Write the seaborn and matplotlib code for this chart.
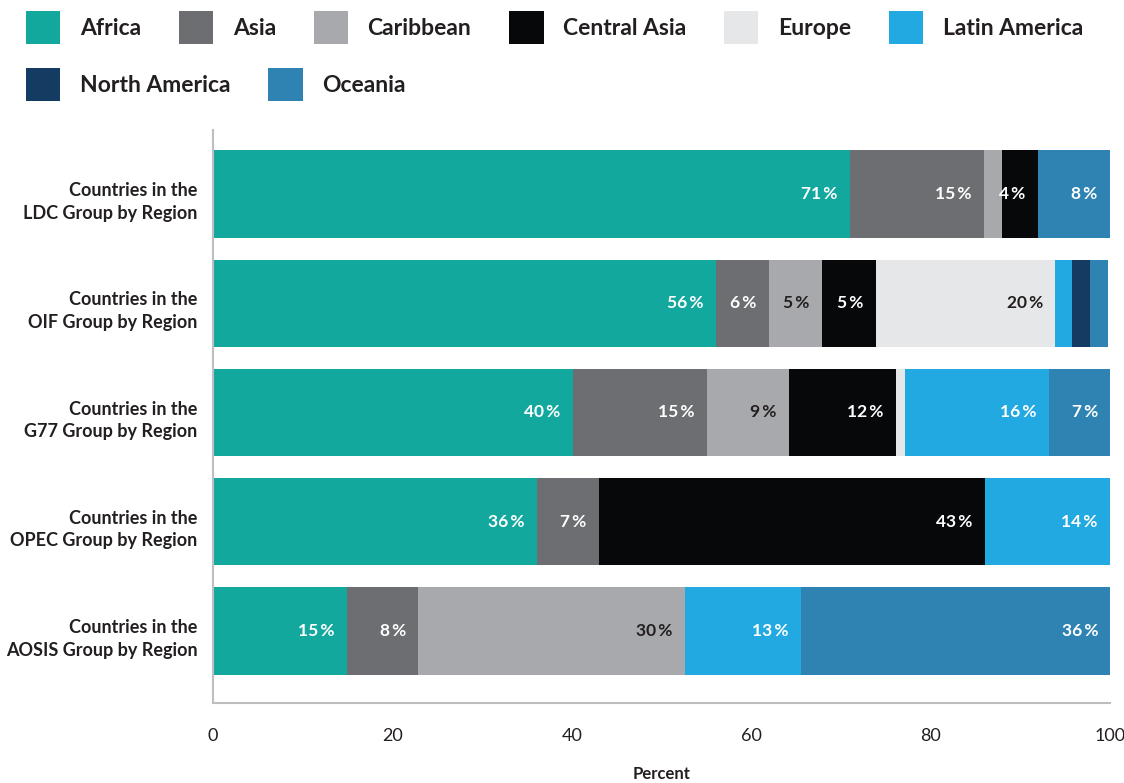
import matplotlib
matplotlib.use("Agg")
import matplotlib.pyplot as plt
import matplotlib.transforms as mtransforms
from matplotlib.patches import Patch
import numpy as np
import pandas as pd
import seaborn as sns

# ---- data ----
groups = [
    "Countries in the\nLDC Group by Region",
    "Countries in the\nOIF Group by Region",
    "Countries in the\nG77 Group by Region",
    "Countries in the\nOPEC Group by Region",
    "Countries in the\nAOSIS Group by Region",
]
regions = ["Africa", "Asia", "Caribbean", "Central Asia", "Europe",
           "Latin America", "North America", "Oceania"]

africa = [71, 56.1, 40.1, 36.1, 14.9]
asia = [15, 5.9, 15, 6.9, 8]
caribbean = [2, 5.9, 9.1, 0, 29.7]
central_asia = [4, 6, 11.9, 43.1, 0]
europe = [0, 20, 1, 0, 0]
latin_america = [0, 1.9, 16.1, 13.9, 13]
north_america = [0, 2, 0, 0, 0]
oceania = [8, 2, 6.9, 0, 34.5]

africa_labels = ["71%", "56%", "40%", "36%", "15%"]
asia_labels = ["15%", "6%", "15%", "7%", "8%"]
caribbean_labels = ["", "5%", "9%", "", "30%"]
central_asia_labels = ["4%", "5%", "12%", "43%", ""]
europe_labels = ["", "20%", "", "", ""]
latin_america_labels = ["", "", "16%", "14%", "13%"]
north_america_labels = ["", "", "", "", ""]
oceania_labels = ["8%", "", "7%", "", "36%"]

colors = ["#13a89e", "#6d6e71", "#a7a9ac", "#060809", "#e6e7e8",
          "#22a9e1", "#143b62", "#2e83b3"]
label_colors = ["white", "white", "#231f20", "white", "#231f20",
                "white", "white", "white"]

values = [africa, asia, caribbean, central_asia, europe,
          latin_america, north_america, oceania]
labels = [africa_labels, asia_labels, caribbean_labels, central_asia_labels,
          europe_labels, latin_america_labels, north_america_labels,
          oceania_labels]

# ---- style ----
sns.set_style("white")
plt.rcParams["font.family"] = ["Lato", "DejaVu Sans"]
dark = "#231f20"
grey = "#bcbec0"

fig = plt.figure(figsize=(11.24, 7.83), dpi=100)
ax = fig.add_axes([213 / 1124, 1 - 703 / 783, (1110 - 213) / 1124, (703 - 130) / 783])

cum = np.cumsum(np.array(values, dtype=float), axis=0)
df = pd.DataFrame({"group": groups})
for i in range(len(regions) - 1, -1, -1):
    df["x"] = cum[i]
    sns.barplot(data=df, x="x", y="group", order=groups, orient="y",
                color=colors[i], saturation=1, width=0.8, errorbar=None,
                linewidth=0, ax=ax)

for i in range(len(regions)):
    for j in range(len(groups)):
        lbl = labels[i][j]
        if lbl:
            ax.annotate(lbl.replace("%", "\u2009%"), (cum[i][j], j),
                        xytext=(-9, 0), annotation_clip=False,
                        textcoords="offset points", ha="right", va="center",
                        color=label_colors[i], fontsize=12.5,
                        fontweight="bold")

ax.set_xlim(0, 100)
ax.set_ylim(4.66, -0.586)
ax.set_xticks([0, 20, 40, 60, 80, 100])
ax.set_xlabel("Percent", fontsize=12, fontweight="bold", color=dark, labelpad=16)
ax.set_ylabel("")
for s in ["top", "right"]:
    ax.spines[s].set_visible(False)
for s in ["left", "bottom"]:
    ax.spines[s].set_color(grey)
    ax.spines[s].set_linewidth(1.5)
ax.tick_params(axis="x", direction="in", length=6, color=grey, pad=18,
               labelsize=13, labelcolor=dark)
ax.tick_params(axis="y", length=0, pad=11)
shift = mtransforms.ScaledTranslation(0, -8 / 100, fig.dpi_scale_trans)
for t in ax.get_yticklabels():
    t.set_fontsize(13)
    t.set_fontweight("bold")
    t.set_color(dark)
    t.set_linespacing(1.4)
    t.set_va("center")
    t.set_transform(t.get_transform() + shift)

handles = [Patch(facecolor=c, edgecolor="none") for c in colors]
leg_kw = dict(loc="upper left", frameon=False, handlelength=1.5,
              handleheight=1.85, handletextpad=0.85, columnspacing=1.65,
              borderaxespad=0, borderpad=0, labelcolor=dark,
              prop={"size": 16.5, "weight": "bold"})
leg1 = fig.legend(handles[:6], regions[:6], ncol=6,
                  bbox_to_anchor=(26 / 1124, 1 - 11 / 783), **leg_kw)
leg2 = fig.legend(handles[6:], regions[6:], ncol=2,
                  bbox_to_anchor=(26 / 1124, 1 - 68 / 783), **leg_kw)

fig.savefig("out.png", dpi=100)
